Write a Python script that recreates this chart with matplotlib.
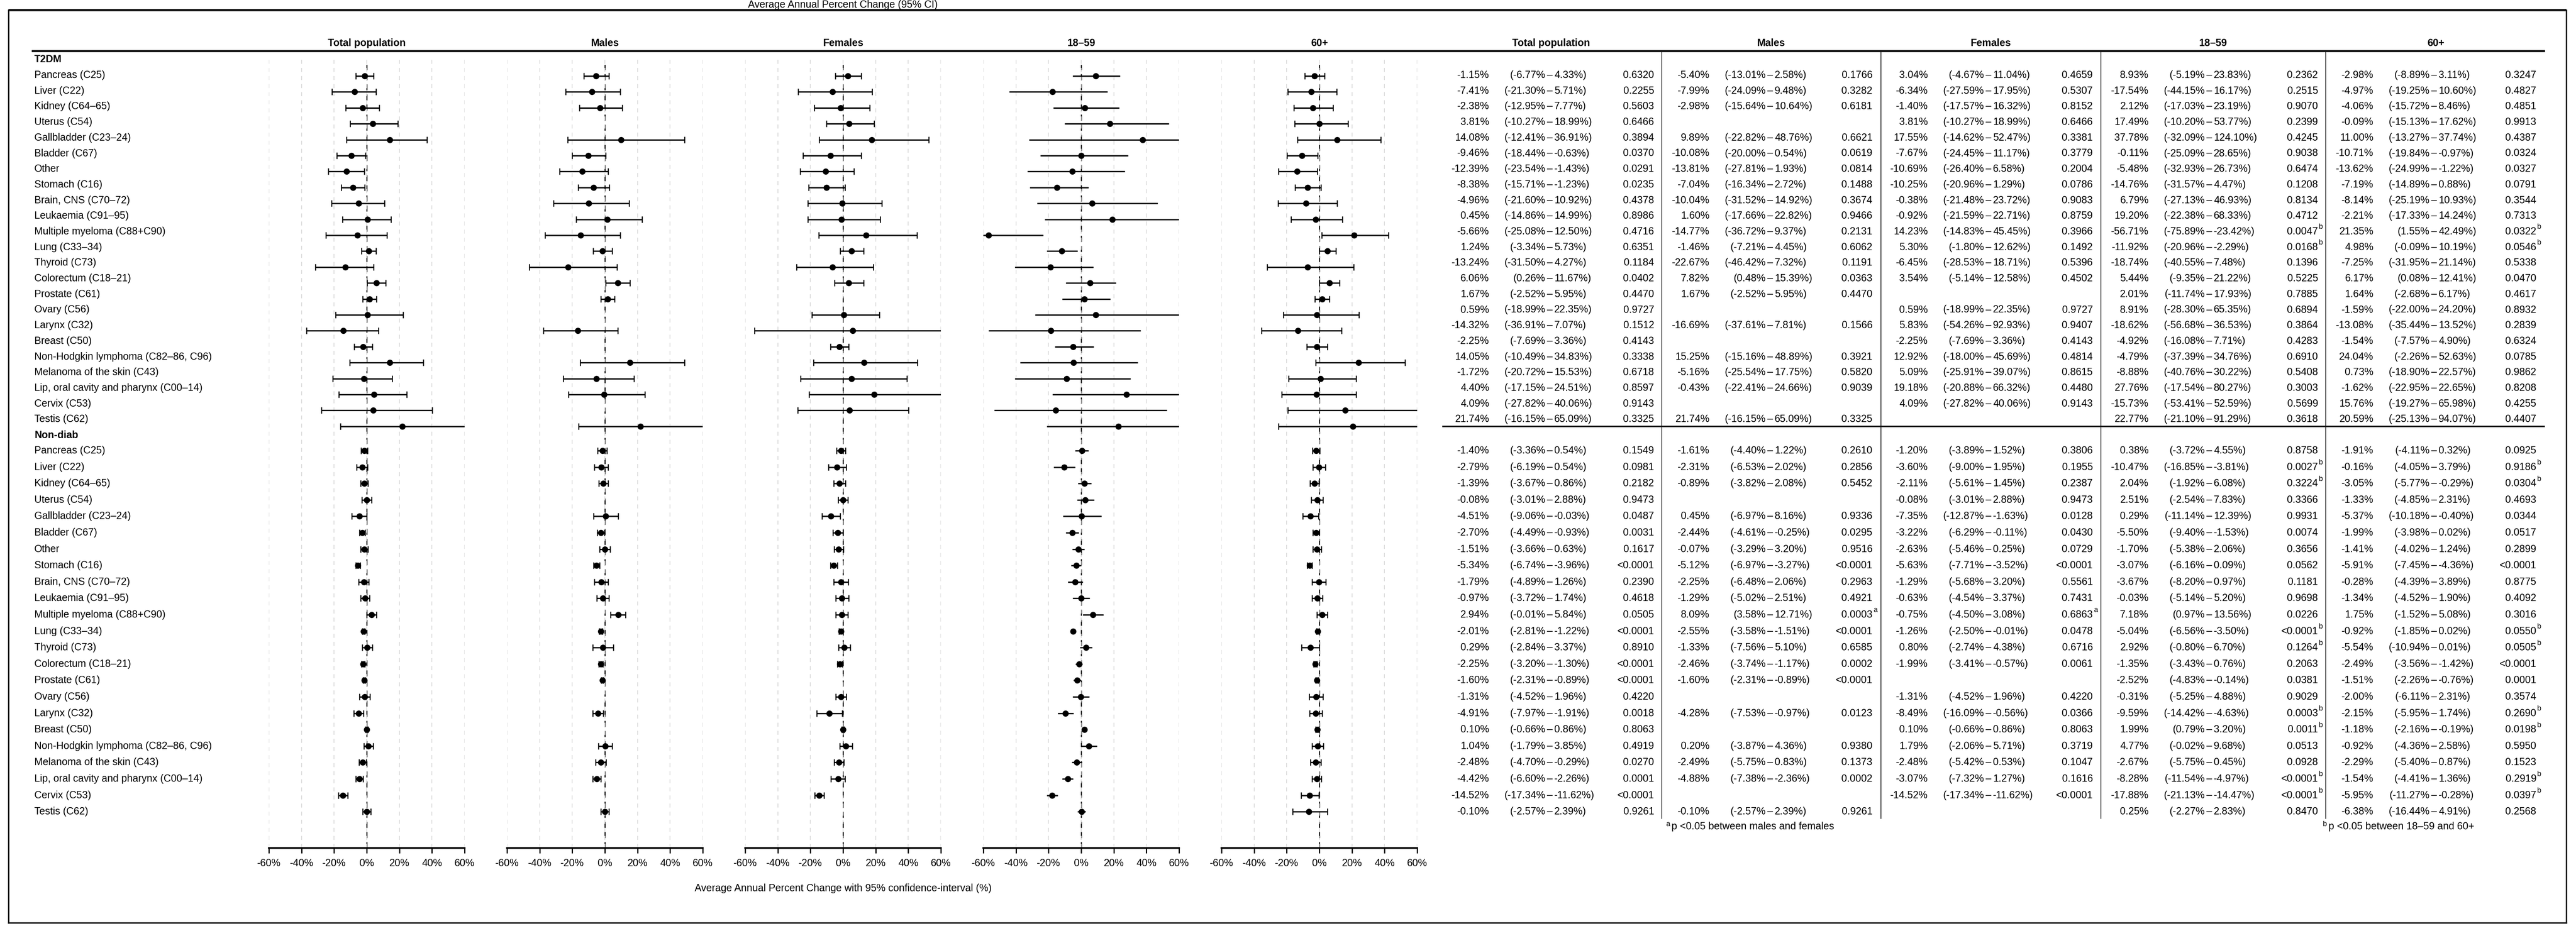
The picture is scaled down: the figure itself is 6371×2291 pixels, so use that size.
import numpy as np
import matplotlib
matplotlib.use("Agg")
import matplotlib.pyplot as plt
from matplotlib import font_manager

# ---- data -------------------------------------------------------------
sites = ["Pancreas (C25)", "Liver (C22)", "Kidney (C64–65)", "Uterus (C54)",
         "Gallbladder (C23–24)", "Bladder (C67)", "Other", "Stomach (C16)",
         "Brain, CNS (C70–72)", "Leukaemia (C91–95)", "Multiple myeloma (C88+C90)",
         "Lung (C33–34)", "Thyroid (C73)", "Colorectum (C18–21)", "Prostate (C61)",
         "Ovary (C56)", "Larynx (C32)", "Breast (C50)",
         "Non-Hodgkin lymphoma (C82–86, C96)", "Melanoma of the skin (C43)",
         "Lip, oral cavity and pharynx (C00–14)", "Cervix (C53)", "Testis (C62)"]
groups = ["T2DM", "Non-diab"]
columns = ["Total population", "Males", "Females", "18–59", "60+"]

# (AAPC, lower 95% CI, upper 95% CI, p-value), None = not applicable
t2dm_total = [(-1.15, -6.77, 4.33, "0.6320"), (-7.41, -21.30, 5.71, "0.2255"),
              (-2.38, -12.95, 7.77, "0.5603"), (3.81, -10.27, 18.99, "0.6466"),
              (14.08, -12.41, 36.91, "0.3894"), (-9.46, -18.44, -0.63, "0.0370"),
              (-12.39, -23.54, -1.43, "0.0291"), (-8.38, -15.71, -1.23, "0.0235"),
              (-4.96, -21.60, 10.92, "0.4378"), (0.45, -14.86, 14.99, "0.8986"),
              (-5.66, -25.08, 12.50, "0.4716"), (1.24, -3.34, 5.73, "0.6351"),
              (-13.24, -31.50, 4.27, "0.1184"), (6.06, 0.26, 11.67, "0.0402"),
              (1.67, -2.52, 5.95, "0.4470"), (0.59, -18.99, 22.35, "0.9727"),
              (-14.32, -36.91, 7.07, "0.1512"), (-2.25, -7.69, 3.36, "0.4143"),
              (14.05, -10.49, 34.83, "0.3338"), (-1.72, -20.72, 15.53, "0.6718"),
              (4.40, -17.15, 24.51, "0.8597"), (4.09, -27.82, 40.06, "0.9143"),
              (21.74, -16.15, 65.09, "0.3325")]
t2dm_males = [(-5.40, -13.01, 2.58, "0.1766"), (-7.99, -24.09, 9.48, "0.3282"),
              (-2.98, -15.64, 10.64, "0.6181"), None,
              (9.89, -22.82, 48.76, "0.6621"), (-10.08, -20.00, 0.54, "0.0619"),
              (-13.81, -27.81, 1.93, "0.0814"), (-7.04, -16.34, 2.72, "0.1488"),
              (-10.04, -31.52, 14.92, "0.3674"), (1.60, -17.66, 22.82, "0.9466"),
              (-14.77, -36.72, 9.37, "0.2131"), (-1.46, -7.21, 4.45, "0.6062"),
              (-22.67, -46.42, 7.32, "0.1191"), (7.82, 0.48, 15.39, "0.0363"),
              (1.67, -2.52, 5.95, "0.4470"), None,
              (-16.69, -37.61, 7.81, "0.1566"), None,
              (15.25, -15.16, 48.89, "0.3921"), (-5.16, -25.54, 17.75, "0.5820"),
              (-0.43, -22.41, 24.66, "0.9039"), None,
              (21.74, -16.15, 65.09, "0.3325")]
t2dm_females = [(3.04, -4.67, 11.04, "0.4659"), (-6.34, -27.59, 17.95, "0.5307"),
                (-1.40, -17.57, 16.32, "0.8152"), (3.81, -10.27, 18.99, "0.6466"),
                (17.55, -14.62, 52.47, "0.3381"), (-7.67, -24.45, 11.17, "0.3779"),
                (-10.69, -26.40, 6.58, "0.2004"), (-10.25, -20.96, 1.29, "0.0786"),
                (-0.38, -21.48, 23.72, "0.9083"), (-0.92, -21.59, 22.71, "0.8759"),
                (14.23, -14.83, 45.45, "0.3966"), (5.30, -1.80, 12.62, "0.1492"),
                (-6.45, -28.53, 18.71, "0.5396"), (3.54, -5.14, 12.58, "0.4502"),
                None, (0.59, -18.99, 22.35, "0.9727"),
                (5.83, -54.26, 92.93, "0.9407"), (-2.25, -7.69, 3.36, "0.4143"),
                (12.92, -18.00, 45.69, "0.4814"), (5.09, -25.91, 39.07, "0.8615"),
                (19.18, -20.88, 66.32, "0.4480"), (4.09, -27.82, 40.06, "0.9143"),
                None]
t2dm_young = [(8.93, -5.19, 23.83, "0.2362"), (-17.54, -44.15, 16.17, "0.2515"),
              (2.12, -17.03, 23.19, "0.9070"), (17.49, -10.20, 53.77, "0.2399"),
              (37.78, -32.09, 124.10, "0.4245"), (-0.11, -25.09, 28.65, "0.9038"),
              (-5.48, -32.93, 26.73, "0.6474"), (-14.76, -31.57, 4.47, "0.1208"),
              (6.79, -27.13, 46.93, "0.8134"), (19.20, -22.38, 68.33, "0.4712"),
              (-56.71, -75.89, -23.42, "0.0047^b"), (-11.92, -20.96, -2.29, "0.0168^b"),
              (-18.74, -40.55, 7.48, "0.1396"), (5.44, -9.35, 21.22, "0.5225"),
              (2.01, -11.74, 17.93, "0.7885"), (8.91, -28.30, 65.35, "0.6894"),
              (-18.62, -56.68, 36.53, "0.3864"), (-4.92, -16.08, 7.71, "0.4283"),
              (-4.79, -37.39, 34.76, "0.6910"), (-8.88, -40.76, 30.22, "0.5408"),
              (27.76, -17.54, 80.27, "0.3003"), (-15.73, -53.41, 52.59, "0.5699"),
              (22.77, -21.10, 91.29, "0.3618")]
t2dm_old = [(-2.98, -8.89, 3.11, "0.3247"), (-4.97, -19.25, 10.60, "0.4827"),
            (-4.06, -15.72, 8.46, "0.4851"), (-0.09, -15.13, 17.62, "0.9913"),
            (11.00, -13.27, 37.74, "0.4387"), (-10.71, -19.84, -0.97, "0.0324"),
            (-13.62, -24.99, -1.22, "0.0327"), (-7.19, -14.89, 0.88, "0.0791"),
            (-8.14, -25.19, 10.93, "0.3544"), (-2.21, -17.33, 14.24, "0.7313"),
            (21.35, 1.55, 42.49, "0.0322^b"), (4.98, -0.09, 10.19, "0.0546^b"),
            (-7.25, -31.95, 21.14, "0.5338"), (6.17, 0.08, 12.41, "0.0470"),
            (1.64, -2.68, 6.17, "0.4617"), (-1.59, -22.00, 24.20, "0.8932"),
            (-13.08, -35.44, 13.52, "0.2839"), (-1.54, -7.57, 4.90, "0.6324"),
            (24.04, -2.26, 52.63, "0.0785"), (0.73, -18.90, 22.57, "0.9862"),
            (-1.62, -22.95, 22.65, "0.8208"), (15.76, -19.27, 65.98, "0.4255"),
            (20.59, -25.13, 94.07, "0.4407")]

nondiab_total = [(-1.40, -3.36, 0.54, "0.1549"), (-2.79, -6.19, 0.54, "0.0981"),
                 (-1.39, -3.67, 0.86, "0.2182"), (-0.08, -3.01, 2.88, "0.9473"),
                 (-4.51, -9.06, -0.03, "0.0487"), (-2.70, -4.49, -0.93, "0.0031"),
                 (-1.51, -3.66, 0.63, "0.1617"), (-5.34, -6.74, -3.96, "<0.0001"),
                 (-1.79, -4.89, 1.26, "0.2390"), (-0.97, -3.72, 1.74, "0.4618"),
                 (2.94, -0.01, 5.84, "0.0505"), (-2.01, -2.81, -1.22, "<0.0001"),
                 (0.29, -2.84, 3.37, "0.8910"), (-2.25, -3.20, -1.30, "<0.0001"),
                 (-1.60, -2.31, -0.89, "<0.0001"), (-1.31, -4.52, 1.96, "0.4220"),
                 (-4.91, -7.97, -1.91, "0.0018"), (0.10, -0.66, 0.86, "0.8063"),
                 (1.04, -1.79, 3.85, "0.4919"), (-2.48, -4.70, -0.29, "0.0270"),
                 (-4.42, -6.60, -2.26, "0.0001"), (-14.52, -17.34, -11.62, "<0.0001"),
                 (-0.10, -2.57, 2.39, "0.9261")]
nondiab_males = [(-1.61, -4.40, 1.22, "0.2610"), (-2.31, -6.53, 2.02, "0.2856"),
                 (-0.89, -3.82, 2.08, "0.5452"), None,
                 (0.45, -6.97, 8.16, "0.9336"), (-2.44, -4.61, -0.25, "0.0295"),
                 (-0.07, -3.29, 3.20, "0.9516"), (-5.12, -6.97, -3.27, "<0.0001"),
                 (-2.25, -6.48, 2.06, "0.2963"), (-1.29, -5.02, 2.51, "0.4921"),
                 (8.09, 3.58, 12.71, "0.0003^a"), (-2.55, -3.58, -1.51, "<0.0001"),
                 (-1.33, -7.56, 5.10, "0.6585"), (-2.46, -3.74, -1.17, "0.0002"),
                 (-1.60, -2.31, -0.89, "<0.0001"), None,
                 (-4.28, -7.53, -0.97, "0.0123"), None,
                 (0.20, -3.87, 4.36, "0.9380"), (-2.49, -5.75, 0.83, "0.1373"),
                 (-4.88, -7.38, -2.36, "0.0002"), None,
                 (-0.10, -2.57, 2.39, "0.9261")]
nondiab_females = [(-1.20, -3.89, 1.52, "0.3806"), (-3.60, -9.00, 1.95, "0.1955"),
                   (-2.11, -5.61, 1.45, "0.2387"), (-0.08, -3.01, 2.88, "0.9473"),
                   (-7.35, -12.87, -1.63, "0.0128"), (-3.22, -6.29, -0.11, "0.0430"),
                   (-2.63, -5.46, 0.25, "0.0729"), (-5.63, -7.71, -3.52, "<0.0001"),
                   (-1.29, -5.68, 3.20, "0.5561"), (-0.63, -4.54, 3.37, "0.7431"),
                   (-0.75, -4.50, 3.08, "0.6863^a"), (-1.26, -2.50, -0.01, "0.0478"),
                   (0.80, -2.74, 4.38, "0.6716"), (-1.99, -3.41, -0.57, "0.0061"),
                   None, (-1.31, -4.52, 1.96, "0.4220"),
                   (-8.49, -16.09, -0.56, "0.0366"), (0.10, -0.66, 0.86, "0.8063"),
                   (1.79, -2.06, 5.71, "0.3719"), (-2.48, -5.42, 0.53, "0.1047"),
                   (-3.07, -7.32, 1.27, "0.1616"), (-14.52, -17.34, -11.62, "<0.0001"),
                   None]
nondiab_young = [(0.38, -3.72, 4.55, "0.8758"), (-10.47, -16.85, -3.81, "0.0027^b"),
                 (2.04, -1.92, 6.08, "0.3224^b"), (2.51, -2.54, 7.83, "0.3366"),
                 (0.29, -11.14, 12.39, "0.9931"), (-5.50, -9.40, -1.53, "0.0074"),
                 (-1.70, -5.38, 2.06, "0.3656"), (-3.07, -6.16, 0.09, "0.0562"),
                 (-3.67, -8.20, 0.97, "0.1181"), (-0.03, -5.14, 5.20, "0.9698"),
                 (7.18, 0.97, 13.56, "0.0226"), (-5.04, -6.56, -3.50, "<0.0001^b"),
                 (2.92, -0.80, 6.70, "0.1264^b"), (-1.35, -3.43, 0.76, "0.2063"),
                 (-2.52, -4.83, -0.14, "0.0381"), (-0.31, -5.25, 4.88, "0.9029"),
                 (-9.59, -14.42, -4.63, "0.0003^b"), (1.99, 0.79, 3.20, "0.0011^b"),
                 (4.77, -0.02, 9.68, "0.0513"), (-2.67, -5.75, 0.45, "0.0928"),
                 (-8.28, -11.54, -4.97, "<0.0001^b"), (-17.88, -21.13, -14.47, "<0.0001^b"),
                 (0.25, -2.27, 2.83, "0.8470")]
nondiab_old = [(-1.91, -4.11, 0.32, "0.0925"), (-0.16, -4.05, 3.79, "0.9186^b"),
               (-3.05, -5.77, -0.29, "0.0304^b"), (-1.33, -4.85, 2.31, "0.4693"),
               (-5.37, -10.18, -0.40, "0.0344"), (-1.99, -3.98, 0.02, "0.0517"),
               (-1.41, -4.02, 1.24, "0.2899"), (-5.91, -7.45, -4.36, "<0.0001"),
               (-0.28, -4.39, 3.89, "0.8775"), (-1.34, -4.52, 1.90, "0.4092"),
               (1.75, -1.52, 5.08, "0.3016"), (-0.92, -1.85, 0.02, "0.0550^b"),
               (-5.54, -10.94, 0.01, "0.0505^b"), (-2.49, -3.56, -1.42, "<0.0001"),
               (-1.51, -2.26, -0.76, "0.0001"), (-2.00, -6.11, 2.31, "0.3574"),
               (-2.15, -5.95, 1.74, "0.2690^b"), (-1.18, -2.16, -0.19, "0.0198^b"),
               (-0.92, -4.36, 2.58, "0.5950"), (-2.29, -5.40, 0.87, "0.1523"),
               (-1.54, -4.41, 1.36, "0.2919^b"), (-5.95, -11.27, -0.28, "0.0397^b"),
               (-6.38, -16.44, 4.91, "0.2568")]

data = {
    "T2DM": [t2dm_total, t2dm_males, t2dm_females, t2dm_young, t2dm_old],
    "Non-diab": [nondiab_total, nondiab_males, nondiab_females, nondiab_young, nondiab_old],
}
xticks = [-60, -40, -20, 0, 20, 40, 60]

# ---- fonts ------------------------------------------------------------
names = {f.name for f in font_manager.fontManager.ttflist}
if "Liberation Sans Narrow" in names:
    FONT, FS = "Liberation Sans Narrow", 22
else:
    FONT, FS = "Liberation Sans", 18
plt.rcParams["font.family"] = [FONT, "DejaVu Sans"]

# ---- layout (pixels) ----------------------------------------------------
W, H = 6371, 2291
fig = plt.figure(figsize=(W / 100, H / 100), dpi=100)
frame = fig.add_axes([0, 0, 1, 1])
frame.set_xlim(0, W)
frame.set_ylim(H, 0)
frame.axis("off")

n = len(sites)
# row positions for labels / table, and for the forest marks (slightly different)
row_y = {"T2DM": 186 + 38.7 * np.arange(n), "Non-diab": 1115 + 40.6 * np.arange(n)}
mark_y = {"T2DM": 188 + 39.4 * np.arange(n), "Non-diab": 1115 + 40.6 * np.arange(n)}
group_y = {"T2DM": 147, "Non-diab": 1077}

AX_TOP, AX_BOT = 148, 2098
panel_left = [665 + k * 589 for k in range(5)]
PANEL_W = 484

# border and rules
frame.plot([21, 6347], [25, 25], color="#111111", lw=4, solid_capstyle="butt")
frame.plot([21, 21], [25, 2283], color="#111111", lw=2.5)
frame.plot([6347, 6347], [25, 2283], color="#111111", lw=2.5)
frame.plot([21, 6347], [2283, 2283], color="#111111", lw=2.5)
frame.plot([78, 6294], [126, 126], color="#111111", lw=3.8, solid_capstyle="butt")
frame.plot([3567, 6294], [1055, 1055], color="#111111", lw=2.6, solid_capstyle="butt")
for xs in [4110, 4652, 5196, 5752]:
    frame.plot([xs, xs], [128, 2025], color="#111111", lw=1.3)

# titles
plot_mid = (panel_left[0] + panel_left[-1] + PANEL_W) / 2
frame.text(plot_mid, 12, "Average Annual Percent Change (95% CI)", ha="center",
           va="center", fontsize=FS)
frame.text(plot_mid, 2198, "Average Annual Percent Change with 95% confidence-interval (%)",
           ha="center", va="center", fontsize=FS)
table_mid = [3836, 4380, 4923, 5473, 6024]
for k, col in enumerate(columns):
    frame.text(panel_left[k] + PANEL_W / 2, 107, col, ha="center", va="center",
               fontsize=FS, fontweight="bold")
    frame.text(table_mid[k], 107, col, ha="center", va="center",
               fontsize=FS, fontweight="bold")

# row labels
for g in groups:
    frame.text(85, group_y[g], g, ha="left", va="center", fontsize=FS, fontweight="bold")
    for i, s in enumerate(sites):
        frame.text(85, row_y[g][i], s, ha="left", va="center", fontsize=FS)

# ---- forest panels ------------------------------------------------------
for k, col in enumerate(columns):
    ax = fig.add_axes([panel_left[k] / W, 1 - AX_BOT / H, PANEL_W / W, (AX_BOT - AX_TOP) / H])
    ax.set_xlim(-60, 60)
    ax.set_ylim(AX_BOT, AX_TOP)
    ax.set_facecolor("none")
    ax.set_xticks(xticks)
    ax.set_xticklabels([f"{t}%" for t in xticks])
    ax.set_yticks([])
    ax.grid(axis="x", color="#d4d4d4", linestyle=(0, (6, 6)), lw=1.2)
    ax.axvline(0, ymax=(AX_BOT - 160) / (AX_BOT - AX_TOP), color="black",
               linestyle=(0, (6, 4)), lw=1.8, zorder=1)
    for side in ["top", "left", "right"]:
        ax.spines[side].set_visible(False)
    ax.spines["bottom"].set_linewidth(3.2)
    ax.tick_params(axis="x", length=9, width=2.2, pad=10, labelsize=FS)
    cap = 0 if col == "18–59" else 5.5
    for g in groups:
        rows = data[g][k]
        est = np.array([r[0] if r else np.nan for r in rows])
        lo = np.array([r[1] if r else np.nan for r in rows])
        hi = np.array([r[2] if r else np.nan for r in rows])
        ax.errorbar(est, mark_y[g], xerr=[est - lo, hi - est], fmt="o", color="black",
                    ms=10, elinewidth=2.4, capsize=cap, capthick=1.8, zorder=3)

# ---- table --------------------------------------------------------------
est_right = [3683, 4228, 4768, 5314, 5870]
p_right = [4091, 4631, 5176, 5733, 6273]
for g in groups:
    for k in range(5):
        for i, r in enumerate(data[g][k]):
            if r is None:
                continue
            y = row_y[g][i]
            e, lo, hi, p = r
            dash = est_right[k] + 150
            frame.text(est_right[k], y, f"{e:.2f}%", ha="right", va="center", fontsize=FS)
            frame.text(dash - 11, y, f"({lo:.2f}%", ha="right", va="center", fontsize=FS)
            frame.text(dash, y, "–", ha="center", va="center", fontsize=FS)
            frame.text(dash + 11, y, f"{hi:.2f}%)", ha="left", va="center", fontsize=FS)
            ptxt, _, sup = p.partition("^")
            frame.text(p_right[k], y, ptxt, ha="right", va="center", fontsize=FS)
            if sup:
                frame.text(p_right[k] + 2, y - 11, sup, ha="left", va="center", fontsize=13)

# footnotes
frame.text(4120, 2040, "a", ha="left", va="center", fontsize=13)
frame.text(4134, 2045, "p <0.05 between males and females", ha="left", va="center", fontsize=FS)
frame.text(5745, 2040, "b", ha="left", va="center", fontsize=13)
frame.text(5759, 2045, "p <0.05 between 18–59 and 60+", ha="left", va="center", fontsize=FS)

fig.savefig("out.png", dpi=100, facecolor="white")
